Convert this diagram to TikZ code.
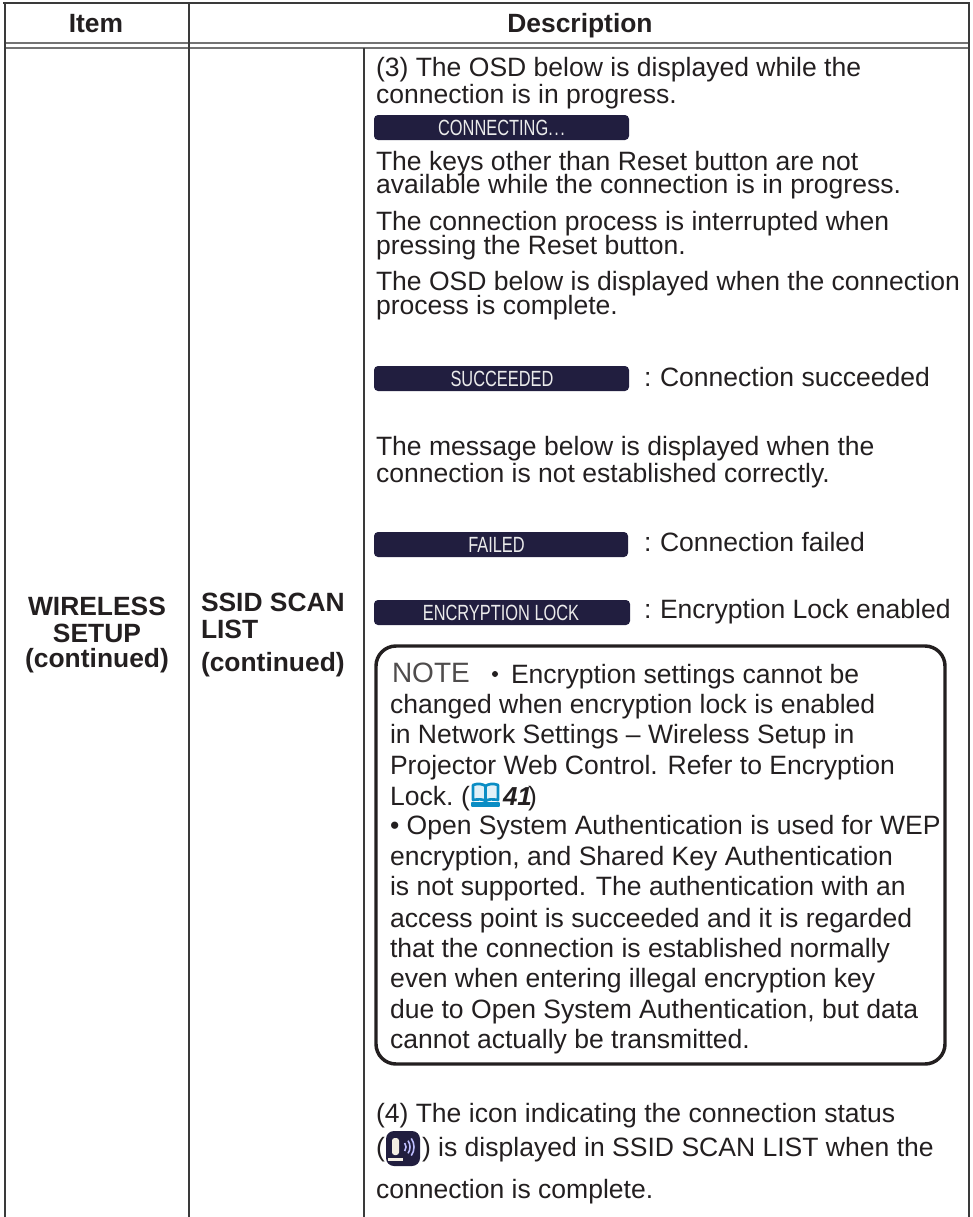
\documentclass[tikz,border=0pt]{standalone}
\usepackage{fontspec}
\setmainfont{Liberation Sans}
\definecolor{ink}{HTML}{231F20}
\definecolor{rulec}{HTML}{3A3A3A}
\definecolor{barc}{HTML}{211E3F}
\definecolor{bookc}{HTML}{0B8DC4}
\definecolor{micc}{HTML}{F4EFE4}
\tikzset{
  ln/.style={anchor=base west,inner sep=0pt,outer sep=0pt,text=ink,font=\fontsize{19.9}{24}\selectfont},
  hd/.style={anchor=base,inner sep=0pt,outer sep=0pt,text=ink,font=\fontsize{19.8}{24}\bfseries\selectfont},
  hdl/.style={hd,anchor=base west},
  rl/.style={draw=rulec,line width=1.5pt},
  dbl/.style={draw=gray!90!black,line width=1.2pt},
  bar/.style={fill=barc,rounded corners=3pt},
  bt/.style={anchor=center,inner sep=0pt,outer sep=0pt,text=white!92!black,font=\fontsize{16.5}{18}\selectfont,xscale=.745,transform shape},
  notebox/.style={draw=ink,line width=2.6pt,rounded corners=15pt},
  wave/.style={draw=white!75!blue,line width=1.2pt}
}
\begin{document}
\begin{tikzpicture}[x=0.75pt,y=-0.75pt]
\useasboundingbox (0,0) rectangle (972,1217);
% table rules
\draw[rl,line width=2pt] (3,3) -- (970,3);
\draw[dbl] (4,43) -- (969,43);
\draw[dbl] (4,48) -- (969,48);
\draw[rl] (4.5,3) -- (4.5,1217);
\draw[rl] (189,3) -- (189,1217);
\draw[rl] (364,48) -- (364,1217);
\draw[rl] (968.5,3) -- (968.5,1217);
% headers
\node[hd] (item) at (96,32) {Item};
\node[hd] (desc) at (580,32) {Description};
\node[hd] (w1) at (97,615) {WIRELESS};
\node[hd] (w2) at (97,642) {SETUP};
\node[hd] (w3) at (97,667) {(continued)};
\node[hdl] (s1) at (201,611) {SSID SCAN};
\node[hdl] (s2) at (201,638) {LIST};
\node[hdl] (s3) at (201,671) {(continued)};
% body
\node[ln] (a1) at (376,76) {(3) The OSD below is displayed while the};
\node[ln] (a2) at (376,103) {connection is in progress.};
\fill[bar] (374,115) rectangle (629,140);
\node[bt] (b1) at (501.5,128) {CONNECTING.\kern1.5pt.\kern1.5pt.};
\node[ln] (a3) at (376,170) {The keys other than Reset button are not};
\node[ln] (a4) at (376,193) {available while the connection is in progress.};
\node[ln] (a5) at (376,230) {The connection process is interrupted when};
\node[ln] (a6) at (376,254) {pressing the Reset button.};
\node[ln] (a7) at (376,290) {The OSD below is displayed when the connection};
\node[ln] (a8) at (376,314) {process is complete.};
\fill[bar] (374,366) rectangle (629,391);
\node[bt] (b2) at (502,379) {SUCCEEDED};
\node[ln] (c1) at (644,386) {:};
\node[ln] (c2) at (660,386) {Connection succeeded};
\node[ln] (a9) at (376,455) {The message below is displayed when the};
\node[ln] (a10) at (376,482) {connection is not established correctly.};
\fill[bar] (374,532) rectangle (628,557);
\node[bt] (b3) at (496.5,545) {FAILED};
\node[ln] (c3) at (644,551) {:};
\node[ln] (c4) at (660,551) {Connection failed};
\fill[bar] (374,600) rectangle (630,625);
\node[bt] (b4) at (501,613) {ENCRYPTION LOCK};
\node[ln] (c5) at (644,618) {:};
\node[ln] (c6) at (660,618) {Encryption Lock enabled};
% note
\draw[notebox] (376,646) rectangle (945,1064);
\node[ln,text=ink!80,font=\fontsize{21}{24}\selectfont] (n0) at (392,682) {NOTE};
\fill[ink] (495,674) circle (3);
\node[ln] (n1) at (511,683) {Encryption settings cannot be};
\node[ln] (n2) at (390,713) {changed when encryption lock is enabled};
\node[ln] (n3) at (390,743) {in Network Settings – Wireless Setup in};
\node[ln] (n4) at (390,774) {Projector Web Control. Refer to Encryption};
\node[ln] (n5) at (390,805) {Lock.};
\node[ln] (n5a) at (461,805) {(};
% book icon
\begin{scope}[draw=bookc,line width=2pt,line join=round]
\draw[fill=bookc!12] (473,785) .. controls (478,783) and (483,784) .. (485.5,786) -- (485.5,801) .. controls (483,799) and (478,799) .. (473,800) -- cycle;
\draw[fill=bookc!12] (498,785) .. controls (493,783) and (488,784) .. (485.5,786) -- (485.5,801) .. controls (488,799) and (493,799) .. (498,800) -- cycle;
\draw[fill=bookc] (472,803) -- (499,803) -- (499,806) -- (472,806) -- cycle;
\end{scope}
\node[ln,font=\fontsize{19.5}{22}\bfseries\itshape\selectfont,text=ink] (n5b) at (503,805) {41};
\node[ln] (n5c) at (528,805) {)};
\node[ln] (n6) at (390,834) {• Open System Authentication is used for WEP};
\node[ln] (n7) at (390,865) {encryption, and Shared Key Authentication};
\node[ln] (n8) at (390,895) {is not supported. The authentication with an};
\node[ln] (n9) at (390,927) {access point is succeeded and it is regarded};
\node[ln] (n10) at (390,957) {that the connection is established normally};
\node[ln] (n11) at (390,987) {even when entering illegal encryption key};
\node[ln] (n12) at (390,1018) {due to Open System Authentication, but data};
\node[ln] (n13) at (390,1048) {cannot actually be transmitted.};
% item 4
\node[ln] (d1) at (376,1122) {(4) The icon indicating the connection status};
\node[ln] (d2a) at (376,1156) {(};
\fill[barc,rounded corners=6pt] (386,1131) rectangle (420,1166);
\fill[micc,rounded corners=2pt] (392,1138) rectangle (399,1155);
\fill[micc] (388,1158) rectangle (403,1161);
\draw[wave] (399,1147) ++(-35:7) arc (-35:35:7);
\draw[wave] (399,1147) ++(-35:11) arc (-35:35:11);
\draw[wave] (399,1147) ++(-35:15) arc (-35:35:15);
\node[ln] (d2b) at (422,1156) {) is displayed in SSID SCAN LIST when the};
\node[ln] (d3) at (376,1198) {connection is complete.};
\end{tikzpicture}
\end{document}
